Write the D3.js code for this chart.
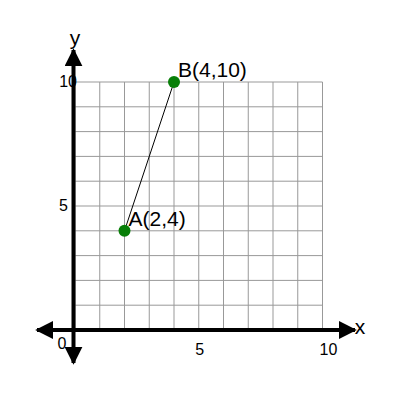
<!DOCTYPE html>
<html>
<head>
<meta charset="UTF-8">
<style>
  body { margin: 0; background: #fff; }
  text { font-family: "Liberation Sans", Arial, sans-serif; }
</style>
</head>
<body>
<script src="https://d3js.org/d3.v7.min.js"></script>
<script>
var gridTicks = [0, 1, 2, 3, 4, 5, 6, 7, 8, 9, 10];
var xLabels = [5, 10];
var yLabels = [5, 10];
var pointNames = ["A", "B"];
var pointX = [2, 4];
var pointY = [4, 10];

var width = 400, height = 400;
var svg = d3.select("body").append("svg").attr("width", width).attr("height", height);

var x = d3.scaleLinear().domain([0, 10]).range([75, 322.5]);
var y = d3.scaleLinear().domain([0, 10]).range([330, 82]);

// grid
svg.append("g").selectAll("line").data(gridTicks).enter().append("line")
  .attr("x1", function(d){ return x(d); }).attr("x2", function(d){ return x(d); })
  .attr("y1", y(0)).attr("y2", y(10))
  .attr("stroke", "#999").attr("stroke-width", 1);
svg.append("g").selectAll("line").data(gridTicks).enter().append("line")
  .attr("y1", function(d){ return y(d); }).attr("y2", function(d){ return y(d); })
  .attr("x1", x(0)).attr("x2", x(10))
  .attr("stroke", "#999").attr("stroke-width", 1);

// axes with arrows
var ax = x(0) - 1.5, ay = y(0);
svg.append("defs").append("marker")
  .attr("id", "arr").attr("viewBox", "0 0 10 10").attr("refX", 9).attr("refY", 5)
  .attr("markerWidth", 4.5).attr("markerHeight", 4.5).attr("orient", "auto-start-reverse")
  .attr("markerUnits", "strokeWidth")
  .append("path").attr("d", "M0,0 L10,5 L0,10 z").attr("fill", "#000");
svg.append("line").attr("x1", 37).attr("x2", 355).attr("y1", ay).attr("y2", ay)
  .attr("stroke", "#000").attr("stroke-width", 4)
  .attr("marker-start", "url(#arr)").attr("marker-end", "url(#arr)");
svg.append("line").attr("x1", ax).attr("x2", ax).attr("y1", 363).attr("y2", 50)
  .attr("stroke", "#000").attr("stroke-width", 4)
  .attr("marker-start", "url(#arr)").attr("marker-end", "url(#arr)");

svg.append("text").attr("x", 360).attr("y", 334).attr("text-anchor", "middle")
  .attr("font-size", 21).text("x");
svg.append("text").attr("x", 75).attr("y", 45).attr("text-anchor", "middle")
  .attr("font-size", 21).text("y");

// tick labels
svg.append("text").attr("x", 62).attr("y", 349).attr("text-anchor", "middle")
  .attr("font-size", 16).text("0");
svg.selectAll(".xl").data(xLabels).enter().append("text")
  .attr("x", function(d){ return x(d) + (d === 10 ? 6 : 1); }).attr("y", 355)
  .attr("text-anchor", "middle").attr("font-size", 16).text(function(d){ return d; });
svg.selectAll(".yl").data(yLabels).enter().append("text")
  .attr("x", function(d){ return d === 10 ? 77 : 68; }).attr("y", function(d){ return y(d) + 5; })
  .attr("text-anchor", "end").attr("font-size", 16).text(function(d){ return d; });

// segment and points
svg.append("line")
  .attr("x1", x(pointX[0])).attr("y1", y(pointY[0]))
  .attr("x2", x(pointX[1])).attr("y2", y(pointY[1]))
  .attr("stroke", "#000").attr("stroke-width", 1);
var pts = pointNames.map(function(n, i){ return { name: n, x: pointX[i], y: pointY[i] }; });
svg.selectAll("circle").data(pts).enter().append("circle")
  .attr("cx", function(d){ return x(d.x); }).attr("cy", function(d){ return y(d.y); })
  .attr("r", 6).attr("fill", "#087f08");
svg.selectAll(".pl").data(pts).enter().append("text")
  .attr("x", function(d){ return x(d.x) + 4; }).attr("y", function(d){ return y(d.y) - 5; })
  .attr("font-size", 21).text(function(d){ return d.name + "(" + d.x + "," + d.y + ")"; });
</script>
</body>
</html>
